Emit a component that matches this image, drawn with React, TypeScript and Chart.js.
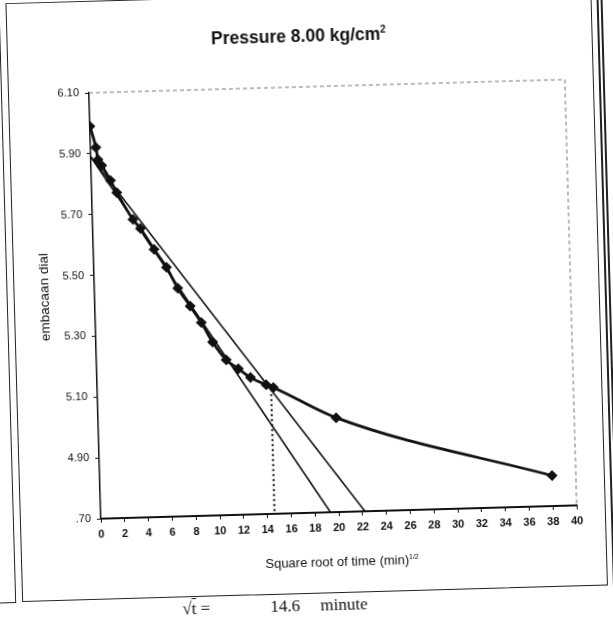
import React, { useEffect, useRef } from "react";
import { Chart, registerables } from "chart.js";

Chart.register(...registerables);

// Main consolidation curve (square root of time vs dial reading)
const timeRoot = [0, 0.45, 0.6, 0.9, 1.6, 2.1, 3.4, 4.0, 5.1, 6.1, 7.0, 8.0, 8.9, 9.8, 10.9, 11.9, 12.9, 14.2, 14.8, 20.0, 38.0];
const dialReading = [5.99, 5.92, 5.88, 5.86, 5.81, 5.77, 5.68, 5.65, 5.58, 5.52, 5.45, 5.39, 5.335, 5.27, 5.21, 5.18, 5.15, 5.125, 5.115, 5.01, 4.8];

// Initial straight line and the 1.15x line
const tangentX = [0, 19.3];
const tangentY = [5.89, 4.7];
const offsetX = [0, 22.2];
const offsetY = [5.89, 4.7];

// Dotted drop line at sqrt(t90)
const t90X = [14.6, 14.6];
const t90Y = [5.11, 4.7];

const xTicks = [0, 2, 4, 6, 8, 10, 12, 14, 16, 18, 20, 22, 24, 26, 28, 30, 32, 34, 36, 38, 40];
const yTicks = [4.7, 4.9, 5.1, 5.3, 5.5, 5.7, 5.9, 6.1];
const yTickLabels = [".70", "4.90", "5.10", "5.30", "5.50", "5.70", "5.90", "6.10"];

const pts = (xs: number[], ys: number[]) => xs.map((x, i) => ({ x, y: ys[i] }));

const framePlugin = {
  id: "plotFrame",
  afterDraw(chart: any) {
    const { ctx, chartArea } = chart;
    ctx.save();
    ctx.strokeStyle = "#777";
    ctx.lineWidth = 1;
    ctx.setLineDash([4, 3]);
    ctx.beginPath();
    ctx.moveTo(chartArea.left, chartArea.top);
    ctx.lineTo(chartArea.right, chartArea.top);
    ctx.lineTo(chartArea.right, chartArea.bottom);
    ctx.stroke();
    ctx.restore();
  },
};

export default function App() {
  const ref = useRef<HTMLCanvasElement | null>(null);

  useEffect(() => {
    if (!ref.current) return;
    const font = { family: "'Liberation Sans', Arial, sans-serif", size: 11, weight: "bold" as const };
    const chart = new Chart(ref.current, {
      type: "scatter",
      data: {
        datasets: [
          {
            data: pts(tangentX, tangentY),
            showLine: true,
            borderColor: "#111",
            borderWidth: 1.6,
            pointRadius: 0,
          },
          {
            data: pts(offsetX, offsetY),
            showLine: true,
            borderColor: "#111",
            borderWidth: 1.6,
            pointRadius: 0,
          },
          {
            data: pts(t90X, t90Y),
            showLine: true,
            borderColor: "#111",
            borderWidth: 2,
            borderDash: [2, 3],
            pointRadius: 0,
          },
          {
            data: pts(timeRoot, dialReading),
            showLine: true,
            borderColor: "#111",
            borderWidth: 2.8,
            cubicInterpolationMode: "monotone",
            pointStyle: "rectRot",
            pointRadius: 3.5,
            pointBackgroundColor: "#111",
            pointBorderColor: "#111",
          },
        ],
      },
      options: {
        animation: false,
        responsive: false,
        maintainAspectRatio: false,
        layout: { padding: { left: 0, top: 86, right: 42, bottom: 0 } },
        plugins: {
          legend: { display: false },
          tooltip: { enabled: false },
          title: { display: false },
        },
        scales: {
          x: {
            type: "linear",
            min: 0,
            max: 40,
            afterBuildTicks: (s: any) => {
              s.ticks = xTicks.map((v) => ({ value: v }));
            },
            afterFit: (s: any) => {
              s.height = 105;
            },
            grid: { drawOnChartArea: false, drawTicks: true, tickLength: 4, color: "#111", lineWidth: 1 },
            border: { display: true, color: "#111", width: 2 },
            ticks: { font, color: "#111", padding: 5, maxRotation: 0, autoSkip: false },
          },
          y: {
            type: "linear",
            min: 4.7,
            max: 6.1,
            afterBuildTicks: (s: any) => {
              s.ticks = yTicks.map((v) => ({ value: v }));
            },
            afterFit: (s: any) => {
              s.width = 95;
            },
            grid: { drawOnChartArea: false, drawTicks: true, tickLength: 4, color: "#111", lineWidth: 1 },
            border: { display: true, color: "#111", width: 1.5 },
            ticks: {
              font: { ...font, weight: "normal" as const },
              color: "#111",
              padding: 6,
              autoSkip: false,
              callback: (v: any) => {
                let best = 0;
                yTicks.forEach((t, i) => {
                  if (Math.abs(t - v) < Math.abs(yTicks[best] - v)) best = i;
                });
                return yTickLabels[best];
              },
            },
          },
        },
      },
      plugins: [framePlugin],
    } as any);
    return () => chart.destroy();
  }, []);

  const sans = "'Liberation Sans', Arial, sans-serif";
  const line = "1.5px solid #222";

  return (
    <div style={{ position: "fixed", left: 0, top: 0, width: 613, height: 617, overflow: "hidden", background: "#fff" }}>
      <div
        style={{
          position: "absolute",
          left: 0,
          top: 0,
          width: 613,
          height: 617,
          transform: "rotate(-1.6deg)",
          transformOrigin: "337px 305px",
        }}
      >
        {/* page / chart frames */}
        <div style={{ position: "absolute", left: 14, top: -6, width: 586, height: 599, border: line, boxSizing: "border-box" }} />
        <div style={{ position: "absolute", left: 7, top: -12, width: 0, height: 605, borderLeft: line }} />
        <div style={{ position: "absolute", left: -12, top: 593, width: 20, height: 0, borderTop: line }} />
        <div style={{ position: "absolute", left: 605, top: -12, width: 0, height: 640, borderLeft: "2px solid #222" }} />
        <div style={{ position: "absolute", left: 609, top: -12, width: 0, height: 640, borderLeft: "2px solid #222" }} />

        <canvas ref={ref} width={613} height={617} style={{ position: "absolute", left: 0, top: 0, display: "block" }} />

        <div
          style={{
            position: "absolute",
            left: 106,
            top: 20,
            width: 400,
            textAlign: "center",
            fontFamily: sans,
            fontWeight: "bold",
            fontSize: 17.5,
            color: "#111",
            lineHeight: "22px",
          }}
        >
          Pressure 8.00 kg/cm<sup style={{ fontSize: 10 }}>2</sup>
        </div>

        <div
          style={{
            position: "absolute",
            left: 45 - 70,
            top: 289 - 8,
            width: 140,
            textAlign: "center",
            transform: "rotate(-90deg)",
            fontFamily: sans,
            fontSize: 13.5,
            color: "#111",
            lineHeight: "16px",
          }}
        >
          embacaan dial
        </div>

        <div
          style={{
            position: "absolute",
            left: 335 - 130,
            top: 559 - 9,
            width: 260,
            textAlign: "center",
            fontFamily: sans,
            fontSize: 13,
            color: "#111",
            lineHeight: "18px",
          }}
        >
          Square root of time (min)<sup style={{ fontSize: 7 }}>1/2</sup>
        </div>

        <div
          style={{
            position: "absolute",
            left: 174,
            top: 595,
            fontFamily: "'Liberation Serif', 'Times New Roman', serif",
            fontSize: 17,
            color: "#111",
            whiteSpace: "nowrap",
            lineHeight: "20px",
          }}
        >
          <span>√</span>
          <span style={{ textDecoration: "overline" }}>t</span>
          <span> =</span>
          <span style={{ position: "absolute", left: 88 }}>14.6</span>
          <span style={{ position: "absolute", left: 138 }}>minute</span>
        </div>
      </div>
    </div>
  );
}
